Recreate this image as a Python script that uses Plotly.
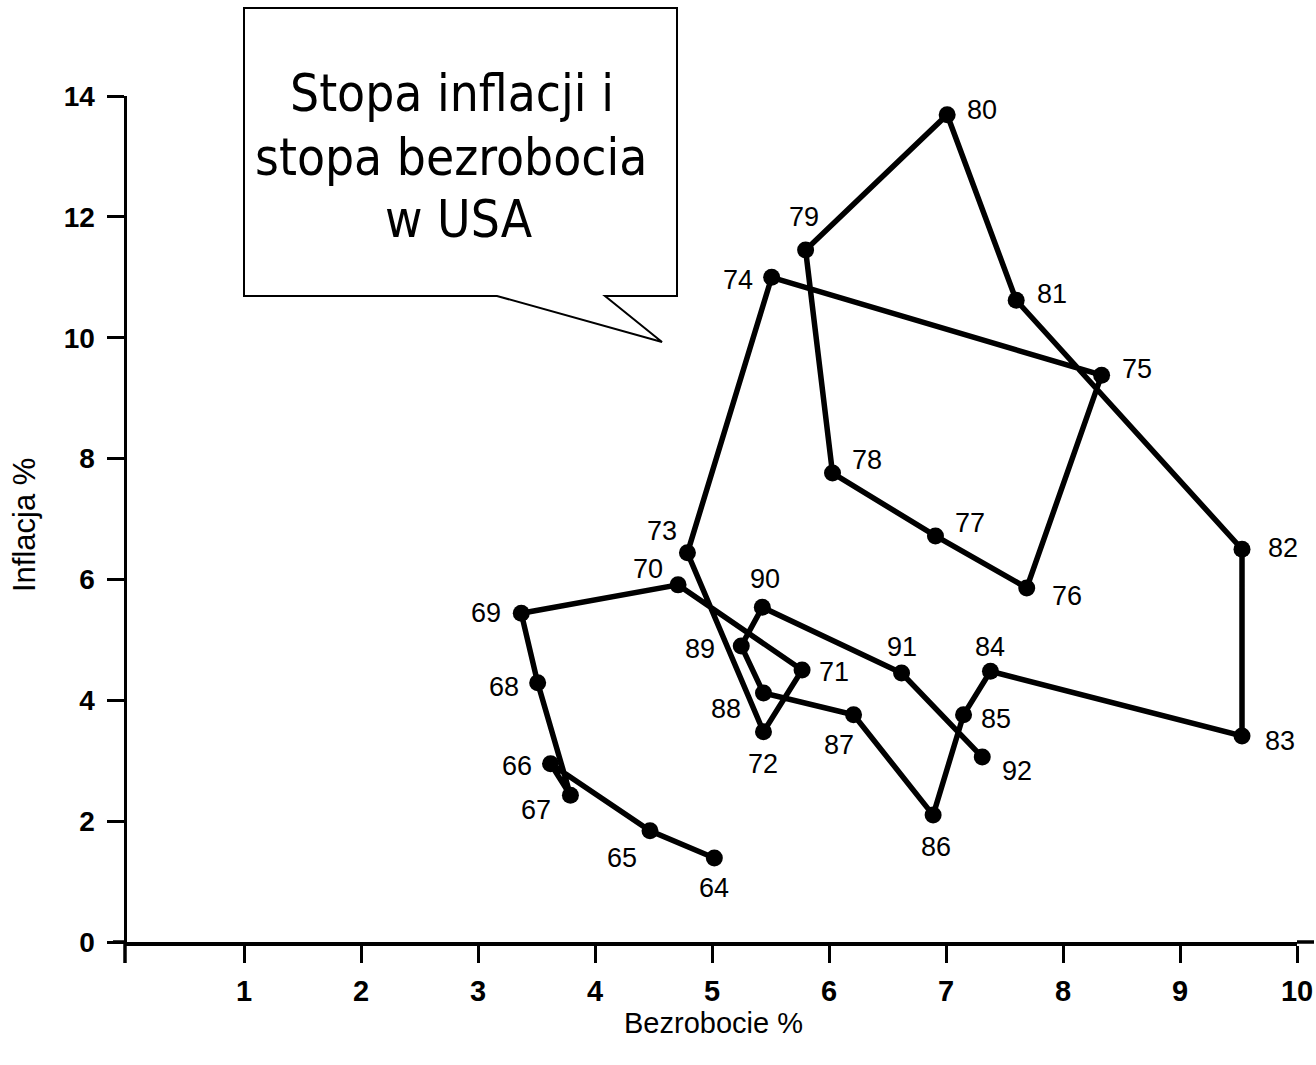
import plotly.graph_objects as go

# ---- data ----
years = ["64", "65", "66", "67", "68", "69", "70", "71", "72", "73", "74", "75", "76", "77",
         "78", "79", "80", "81", "82", "83", "84", "85", "86", "87", "88", "89", "90", "91", "92"]
unemployment = [5.02, 4.47, 3.62, 3.79, 3.51, 3.37, 4.71, 5.77, 5.44, 4.79, 5.51, 8.33, 7.69, 6.91,
                6.03, 5.80, 7.01, 7.60, 9.53, 9.53, 7.38, 7.15, 6.89, 6.21, 5.44, 5.25, 5.43, 6.62, 7.31]
inflation = [1.39, 1.84, 2.95, 2.43, 4.29, 5.44, 5.91, 4.50, 3.48, 6.44, 11.00, 9.38, 5.86, 6.72,
             7.76, 11.45, 13.69, 10.62, 6.50, 3.41, 4.48, 3.76, 2.10, 3.76, 4.12, 4.90, 5.54, 4.45, 3.06]
x_ticks = [1, 2, 3, 4, 5, 6, 7, 8, 9, 10]
y_ticks = [0, 2, 4, 6, 8, 10, 12, 14]

title_lines = ["Stopa inflacji i", "stopa bezrobocia", "w USA"]
x_title = "Bezrobocie %"
y_title = "Inflacja %"

# ---- label offsets in pixels (layout, not data) ----
label_offsets = {
    "64": (0, -30), "65": (-28, -27), "66": (-34, -2), "67": (-34, -15), "68": (-34, -4),
    "69": (-35, 0), "70": (-30, 16), "71": (32, -2), "72": (0, -32), "73": (-25, 22),
    "74": (-34, -3), "75": (35, 6), "76": (40, -8), "77": (35, 13), "78": (34, 13),
    "79": (-2, 33), "80": (35, 5), "81": (36, 6), "82": (41, 1), "83": (38, -5),
    "84": (0, 24), "85": (32, -4), "86": (3, -32), "87": (-15, -30), "88": (-37, -16),
    "89": (-41, -3), "90": (3, 28), "91": (0, 26), "92": (35, -14),
}
# pixel centres of the three callout lines
title_line_pos = [(452, 93), (451, 157), (459, 219)]

W, H = 1316, 1065
ML, MR, MT, MB = 127, 19, 96, 123
PW, PH = W - ML - MR, H - MT - MB


def px(x):
    return (x - ML) / PW


def py(y):
    return (H - MB - y) / PH


fig = go.Figure()
fig.add_trace(go.Scatter(
    x=unemployment, y=inflation, mode="lines+markers",
    line=dict(color="black", width=5.5),
    marker=dict(color="black", size=17),
    hoverinfo="skip", showlegend=False, cliponaxis=False,
))

annotations = []
for yr, xv, yv in zip(years, unemployment, inflation):
    dx, dy = label_offsets[yr]
    annotations.append(dict(
        x=xv, y=yv, xref="x", yref="y", text=yr, showarrow=False,
        xanchor="center", yanchor="middle", xshift=dx, yshift=dy,
        font=dict(family="Liberation Sans, Arial", size=27, color="black"),
    ))

# callout text, one annotation per line
for line, (lx, ly) in zip(title_lines, title_line_pos):
    annotations.append(dict(
        x=px(lx), y=py(ly), xref="paper", yref="paper",
        text=line, showarrow=False, align="center",
        xanchor="center", yanchor="middle",
        font=dict(family="DejaVu Sans Condensed, DejaVu Sans", size=51, color="black"),
    ))
# axis titles
annotations.append(dict(
    x=px(713), y=py(1023), xref="paper", yref="paper", text=x_title, showarrow=False,
    xanchor="center", yanchor="middle",
    font=dict(family="Liberation Sans, Arial", size=29, color="black"),
))
annotations.append(dict(
    x=px(24), y=py(525), xref="paper", yref="paper", text=y_title, showarrow=False,
    xanchor="center", yanchor="middle", textangle=-90,
    font=dict(family="Liberation Sans, Arial", size=31, color="black"),
))

callout_pts = [(605, 296), (677, 296), (677, 8), (244, 8), (244, 296), (497, 296), (662, 342)]
path = "M " + " L ".join(f"{px(a):.5f},{py(b):.5f}" for a, b in callout_pts) + " Z"

shapes = [
    dict(type="path", xref="paper", yref="paper", path=path,
         line=dict(color="black", width=2), fillcolor="white", layer="above"),
    # axis line extensions
    dict(type="line", xref="paper", yref="paper", x0=px(125), x1=px(125), y0=py(942), y1=py(963),
         line=dict(color="black", width=3.5)),
    dict(type="line", xref="paper", yref="paper", x0=px(1297), x1=px(1314), y0=py(942), y1=py(942),
         line=dict(color="black", width=3.5)),
    dict(type="line", xref="paper", yref="paper", x0=px(113), x1=px(127), y0=py(942), y1=py(942),
         line=dict(color="black", width=3.5)),
]

xtickfont = dict(family="Liberation Sans, Arial", size=29, color="black", weight="bold")
ytickfont = dict(family="Liberation Sans, Arial", size=28, color="black", weight="bold")

fig.update_layout(
    width=W, height=H,
    margin=dict(l=ML, r=MR, t=MT, b=MB, autoexpand=False),
    paper_bgcolor="white", plot_bgcolor="white",
    showlegend=False,
    annotations=annotations,
    shapes=shapes,
    xaxis=dict(range=[0, 10], tickvals=x_ticks, ticktext=[str(v) for v in x_ticks],
               ticks="outside", ticklen=17, tickwidth=3, tickcolor="black",
               showline=True, linewidth=3.5, linecolor="black", automargin=False,
               showgrid=False, zeroline=False, tickfont=xtickfont, ticklabelstandoff=4),
    yaxis=dict(range=[0, 14], tickvals=y_ticks, ticktext=[str(v) for v in y_ticks],
               ticks="outside", ticklen=17, tickwidth=3, tickcolor="black",
               showline=True, linewidth=3.5, linecolor="black", automargin=False,
               showgrid=False, zeroline=False, tickfont=ytickfont, ticklabelstandoff=6),
)

fig.write_html(
    "out.html",
    config={"displayModeBar": False, "staticPlot": True},
    post_script="document.body.style.margin='0';document.body.style.overflow='hidden';",
)
